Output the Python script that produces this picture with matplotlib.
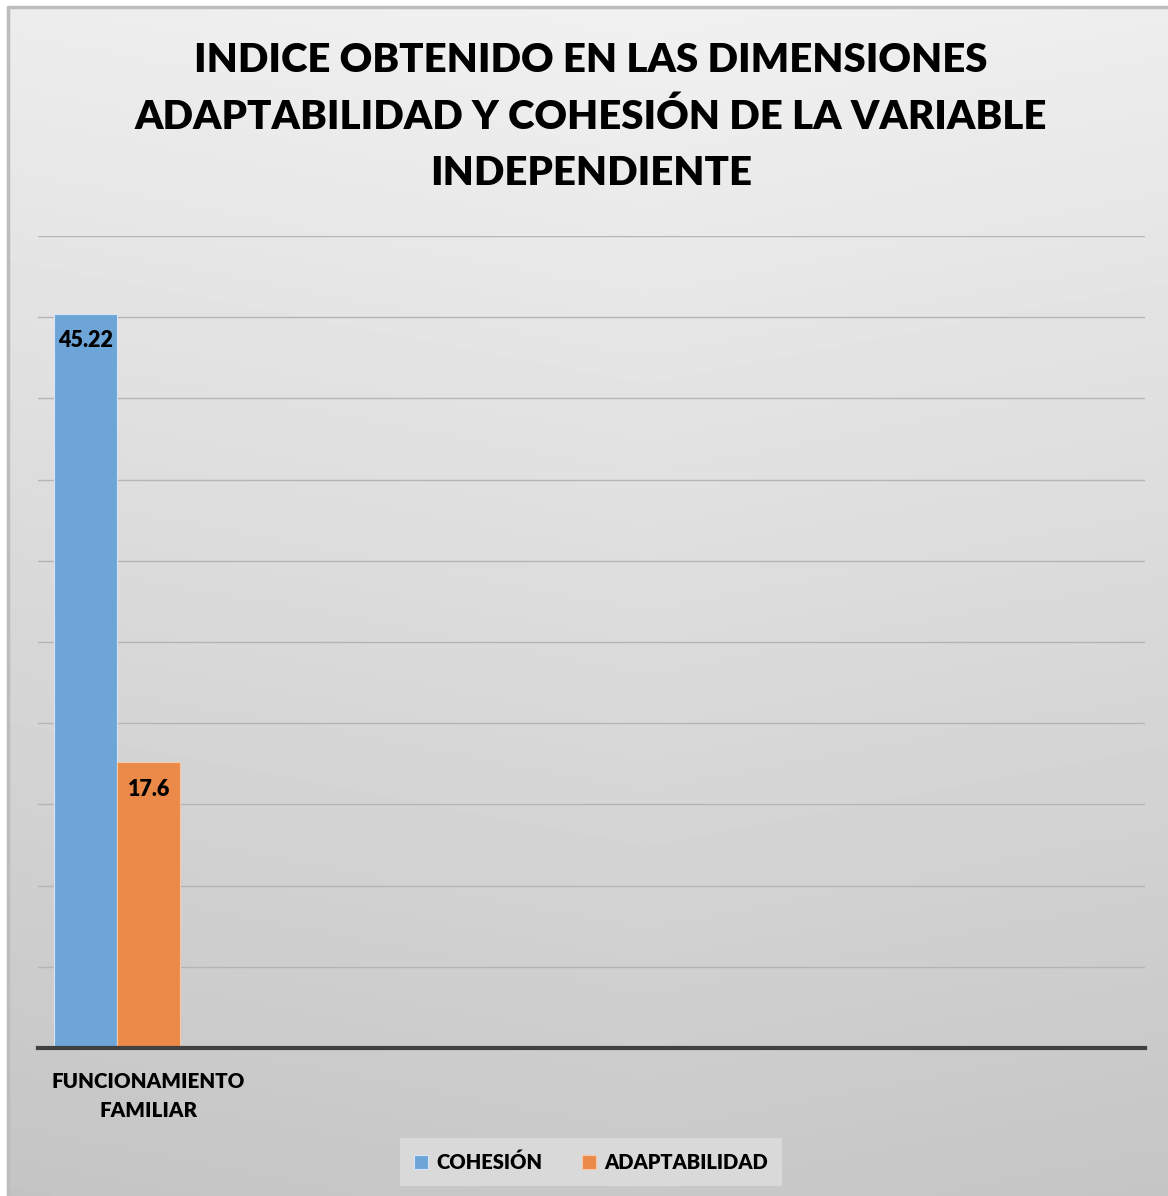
import numpy as np
import matplotlib
matplotlib.use('Agg')
import matplotlib.pyplot as plt
import matplotlib.transforms as mtransforms

plt.rcParams['font.family'] = ['Lato', 'DejaVu Sans']

# ---------------- datos ----------------
categorias = ['FUNCIONAMIENTO\nFAMILIAR']
series = ['COHESIÓN', 'ADAPTABILIDAD']
cohesion = [45.22]
adaptabilidad = [17.6]
etiquetas = ['45.22', '17.6']
colores = ['#6da5d9', '#eb8a48']

titulo = ('INDICE OBTENIDO EN LAS DIMENSIONES\n'
          'ADAPTABILIDAD Y COHESIÓN DE LA VARIABLE\n'
          'INDEPENDIENTE')

W, H = 1168, 1196
fig = plt.figure(figsize=(W / 100, H / 100), dpi=100)
fig.patch.set_facecolor('white')

# fondo degradado del area del grafico
bg = fig.add_axes([8 / W, 0, 1 - 8 / W, 1 - 7 / H])
yy, xx = np.mgrid[0:1:300j, 0:1:300j]
grad = 0.945 - 0.16 * yy - 0.03 * np.abs(xx - 0.55)
bg.imshow(grad, cmap='gray', vmin=0, vmax=1, aspect='auto',
          extent=[0, 1, 0, 1], origin='upper')
bg.plot([0, 0, 1], [0, 1, 1], transform=bg.transAxes, color='#bdbdbd',
        linewidth=2.5, clip_on=False)
bg.set_xlim(0, 1)
bg.set_ylim(0, 1)
bg.set_axis_off()

ax = fig.add_axes([38 / W, 1 - 1048 / H, (1145 - 38) / W, (1048 - 236) / H])
ax.set_facecolor('none')

x = np.arange(len(categorias))
ancho = 0.4
b1 = ax.bar(x - ancho / 2, cohesion, ancho, color=colores[0], label=series[0],
            edgecolor='#d6e6f5', linewidth=0.8, zorder=2)
b2 = ax.bar(x + ancho / 2, adaptabilidad, ancho, color=colores[1], label=series[1],
            edgecolor='#f5c9a8', linewidth=0.8, zorder=2)

for barras, val in zip([b1, b2], etiquetas):
    for bar in barras:
        ax.annotate(val, (bar.get_x() + bar.get_width() / 2, bar.get_height()),
                    xytext=(0, -27), textcoords='offset pixels',
                    ha='center', va='center', fontsize=15.5, fontweight='heavy',
                    color='black', zorder=4)

ax.set_xlim(-0.5, 6.5)
ax.set_ylim(0, 50)
ax.set_yticks(np.arange(0, 55, 5))
ax.yaxis.grid(True, color='#b5b5b5', linewidth=1.0, zorder=3)
ax.tick_params(axis='y', left=False, labelleft=False)
ax.tick_params(axis='x', bottom=False, pad=14)
for s in ['left', 'right', 'top']:
    ax.spines[s].set_visible(False)
ax.spines['bottom'].set_color('#404040')
ax.spines['bottom'].set_linewidth(3)
ax.spines['bottom'].set_zorder(5)

ax.set_xticks(x)
ax.set_xticklabels(categorias, fontsize=14.8, fontweight='heavy', linespacing=1.6)
desplaza = mtransforms.ScaledTranslation(31 / 100, 0, fig.dpi_scale_trans)
for lab in ax.get_xticklabels():
    lab.set_transform(lab.get_transform() + desplaza)

fig.text(591 / W, 1 - 117 / H, titulo, ha='center', va='center',
         fontsize=28.9, fontweight='heavy', linespacing=1.64)

leg = fig.legend(handles=[b1, b2], labels=series, loc='center',
                 bbox_to_anchor=(591 / W, 1 - 1162 / H), ncol=2,
                 frameon=True, fancybox=False,
                 prop={'weight': 'heavy', 'size': 14.5},
                 handlelength=0.7, handleheight=0.7, handletextpad=0.4,
                 columnspacing=2.0, borderpad=0.7)
leg.get_frame().set_facecolor('#d9d9d9')
leg.get_frame().set_edgecolor('none')
leg.get_frame().set_alpha(1)

fig.savefig('out.png', dpi=100)
